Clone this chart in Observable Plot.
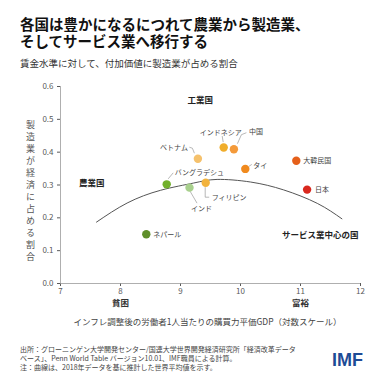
<!DOCTYPE html>
<html><head><meta charset="utf-8">
<script src="https://cdn.jsdelivr.net/npm/d3@7"></script>
<script src="https://cdn.jsdelivr.net/npm/@observablehq/plot@0.6"></script>
<style>
body{margin:0;width:384px;height:384px;position:relative;background:#fff;font-family:'Noto Sans CJK JP','Noto Sans',sans-serif;overflow:hidden}
.tl{position:absolute;left:20px;height:16.5px;line-height:16.5px;font-size:14.5px;font-weight:bold;color:#111;white-space:nowrap;overflow:visible}
#subtitle{position:absolute;left:20px;top:57px;font-size:9.5px;line-height:12px;color:#333}
#ylabel{position:absolute;left:25px;top:120px;writing-mode:vertical-rl;text-orientation:upright;font-family:'Noto Sans CJK JP',sans-serif;font-size:9px;line-height:10px;letter-spacing:3px;color:#555}
#chart{position:absolute;left:0;top:78px}
#caption{position:absolute;left:20px;top:345px;font-size:7px;line-height:9px;color:#444;white-space:nowrap}
#logo{position:absolute;left:332px;top:350px;font-family:'Liberation Sans',Arial,sans-serif;font-weight:bold;font-size:18px;color:#1e4b96;letter-spacing:0}
</style></head>
<body>
<div class="tl" style="top:16px">各国は豊かになるにつれて農業から製造業、</div>
<div class="tl" style="top:32.5px">そしてサービス業へ移行する</div>
<div id="subtitle">賃金水準に対して、付加価値に製造業が占める割合</div>
<div id="chart"></div>
<div id="ylabel"></div>
<div id="caption">出所：グローニンゲン大学開発センター/国連大学世界開発経済研究所「経済改革データ<br>ベース」、Penn World Table バージョン10.01、IMF職員による計算。<br>注：曲線は、2018年データを基に推計した世界平均値を示す。</div>
<div id="logo">IMF</div>
<script>
// ---- data ----
const countries = ["ネパール","バングラデシュ","インド","ベトナム","フィリピン","インドネシア","中国","タイ","大韓民国","日本"];
const gdp = [8.43, 8.77, 9.15, 9.29, 9.42, 9.72, 9.89, 10.08, 10.93, 11.11];
const mfgShare = [0.15, 0.302, 0.292, 0.38, 0.307, 0.414, 0.409, 0.349, 0.374, 0.286];
const pointColors = ["#5f8f2a","#72b02c","#a8d08d","#f5c16c","#f2b33d","#f0ad2b","#f49a3a","#f08a1e","#e5601a","#d9281e"];
const curveX = [7.6, 8.11, 8.67, 9.22, 9.61, 10.17, 10.72, 11.28, 11.69];
const curveY = [0.187, 0.245, 0.284, 0.306, 0.317, 0.309, 0.285, 0.244, 0.197];
const xTicks = [7, 8, 9, 10, 11, 12];
const yTicks = [0, 0.1, 0.2, 0.3, 0.4, 0.5, 0.6];
const regionLabels = ["工業国", "農業国", "サービス業中心の国"];
const regionX = [9.33, 7.52, 11.33];
const regionY = [0.557, 0.305, 0.147];
const poorRichLabels = ["貧困", "富裕"];
const poorRichX = [8, 11];
const xLabel = "インフレ調整後の労働者1人当たりの購買力平価GDP（対数スケール）";
const yLabel = "製造業が経済に占める割合";

// ---- styles (pixel offsets of labels and leader lines) ----
const labelStyle = {
  "ネパール":     {dx: 7,   dy: 0,   anchor: "start",  leader: []},
  "バングラデシュ": {dx: 8,   dy: -12, anchor: "start",  leader: [[7,-11],[2,-5]]},
  "インド":       {dx: 12,  dy: 21,  anchor: "middle", leader: [[1,4],[8,16]]},
  "ベトナム":     {dx: -10, dy: -11, anchor: "end",    leader: [[-8,-11],[-5,-10],[-3,-5]]},
  "フィリピン":   {dx: 6,   dy: 15,  anchor: "start",  leader: [[0,5],[0,15],[4,15]]},
  "インドネシア": {dx: -3,  dy: -15, anchor: "middle", leader: [[-1,-11],[0,-5]]},
  "中国":         {dx: 15,  dy: -17, anchor: "start",  leader: [[13,-16],[8,-14],[4,-5]]},
  "タイ":         {dx: 8,   dy: -3,  anchor: "start",  leader: [[4,-2],[7,-4]]},
  "大韓民国":     {dx: 7,   dy: 0,   anchor: "start",  leader: []},
  "日本":         {dx: 8,   dy: 0,   anchor: "start",  leader: []}
};

const data = countries.map((c, i) => ({country: c, x: gdp[i], y: mfgShare[i], color: pointColors[i]}));
const curve = curveX.map((x, i) => ({x, y: curveY[i]}));
const regions = regionLabels.map((t, i) => ({t, x: regionX[i], y: regionY[i]}));

function leaders(index, scales) {
  const g = d3.create("svg:g").attr("fill", "none").attr("stroke", "#9a9a9a").attr("stroke-width", 0.7);
  for (const d of data) {
    const L = labelStyle[d.country].leader;
    if (!L.length) continue;
    const px = scales.x(d.x), py = scales.y(d.y);
    g.append("path").attr("d", d3.line()(L.map(([a, b]) => [px + a, py + b])));
  }
  return g.node();
}

const font = "'Noto Sans CJK JP','Noto Sans',sans-serif";
const plot = Plot.plot({
  width: 384,
  height: 258,
  marginLeft: 60,
  marginRight: 24,
  marginTop: 8,
  marginBottom: 53,
  style: {fontFamily: font, fontSize: "8px", color: "#595959", background: "transparent"},
  x: {domain: [7, 12], ticks: xTicks, tickFormat: "d", tickSize: 3, tickPadding: 2, label: null},
  y: {domain: [0, 0.6], ticks: yTicks, tickFormat: ".1f", tickSize: 3, tickPadding: 4, label: null},
  marks: [
    Plot.ruleX([7], {y1: 0, y2: 0.6, stroke: "#9a9a9a", strokeWidth: 0.8}),
    Plot.ruleY([0], {stroke: "#9a9a9a", strokeWidth: 0.8}),
    Plot.line(curve, {x: "x", y: "y", curve: "natural", stroke: "#555", strokeWidth: 1}),
    leaders,
    Plot.dot(data, {x: "x", y: "y", r: 4.2, fill: "color", stroke: "none"}),
    ...countries.map(c => {
      const s = labelStyle[c];
      return Plot.text(data.filter(d => d.country === c), {x: "x", y: "y", text: "country", dx: s.dx, dy: s.dy, textAnchor: s.anchor, fontSize: 7, fill: "#444"});
    }),
    Plot.text(regions, {x: "x", y: "y", text: "t", fontSize: 8.5, fontWeight: "bold", fill: "#222"}),
    Plot.text(poorRichLabels, {x: (d, i) => poorRichX[i], text: d => d, frameAnchor: "bottom", dy: 22, fontSize: 8.5, fontWeight: "bold", fill: "#333"}),
    Plot.text([xLabel], {text: d => d, frameAnchor: "bottom", dy: 41, dx: -3, fontSize: 8.5, fill: "#444"})
  ]
});
document.getElementById("chart").appendChild(plot);
document.getElementById("ylabel").textContent = yLabel;
</script>
</body></html>
